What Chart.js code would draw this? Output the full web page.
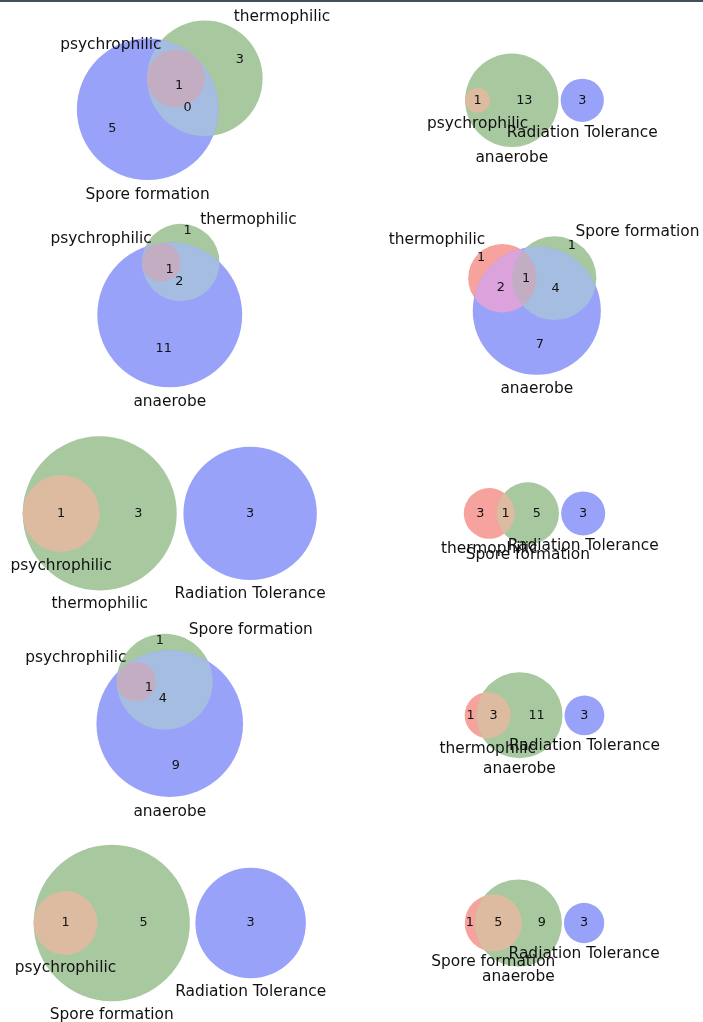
<!DOCTYPE html>
<html>
<head>
<meta charset="utf-8">
<script src="https://cdn.jsdelivr.net/npm/chart.js@4.4.1/dist/chart.umd.min.js"></script>
<style>
  html, body { margin: 0; padding: 0; background: #ffffff; }
  #page { position: relative; width: 703px; height: 1022px; overflow: hidden; background: #ffffff; }
  #page canvas { position: absolute; left: 0; top: 0; pointer-events: none; }
  #topbar { position: absolute; left: 0; top: 0; width: 703px; height: 2px; background: #3f505f; }
</style>
</head>
<body>
<div id="page"><div id="topbar"></div></div>
<script>
// ---- Data: three sets per diagram and their region counts ----
// Region order: [A only, B only, A&B, C only, A&C, B&C, A&B&C]
const setA = ['psychrophilic', 'psychrophilic', 'psychrophilic', 'thermophilic', 'psychrophilic',
              'thermophilic', 'psychrophilic', 'thermophilic', 'psychrophilic', 'Spore formation'];
const setB = ['thermophilic', 'anaerobe', 'thermophilic', 'Spore formation', 'thermophilic',
              'Spore formation', 'Spore formation', 'anaerobe', 'Spore formation', 'anaerobe'];
const setC = ['Spore formation', 'Radiation Tolerance', 'anaerobe', 'anaerobe', 'Radiation Tolerance',
              'Radiation Tolerance', 'anaerobe', 'Radiation Tolerance', 'Radiation Tolerance', 'Radiation Tolerance'];
const regionCounts = [
  [0, 3, 0, 5, 0, 0, 1],
  [0, 13, 1, 3, 0, 0, 0],
  [0, 1, 0, 11, 0, 2, 1],
  [1, 1, 0, 7, 2, 4, 1],
  [0, 3, 1, 3, 0, 0, 0],
  [3, 5, 1, 3, 0, 0, 0],
  [0, 1, 0, 9, 0, 4, 1],
  [1, 11, 3, 3, 0, 0, 0],
  [0, 5, 1, 3, 0, 0, 0],
  [1, 9, 5, 3, 0, 0, 0]
];

// ---- Styling / page layout ----
const REGION_COLORS = { 1: '#f5a39c', 2: '#a8c8a0', 3: '#dcbba0', 4: '#98a2f8', 5: '#dca2dc', 6: '#a5bde0', 7: '#c3adc3' };
const TEXT_COLOR = '#111111';
const FONT = '"DejaVu Sans", "Liberation Sans", sans-serif';
const NUM_FS = 12.8;
const SET_FS = 15.4;
const PAGE_W = 703, PAGE_H = 1022;
const COLS = [{ x: 4.5, w: 330.5 }, { x: 456, w: 157 }];
const ROW_CENTERS = [100.3, 305.5, 513.4, 715.3, 923];
const ROW_H = 190.2;
const BELOW_GAP = 0.034;

// Paint layers: each circle, then its overlaps clipped to the other circles
const LAYERS = [
  { circle: 0, clip: [], code: 1 },
  { circle: 1, clip: [], code: 2 },
  { circle: 2, clip: [], code: 4 },
  { circle: 1, clip: [0], code: 3 },
  { circle: 2, clip: [0], code: 5 },
  { circle: 2, clip: [1], code: 6 },
  { circle: 2, clip: [0, 1], code: 7 }
];

const TOL = 1e-10;
const TAU = Math.PI * 2;

function lensArea(r1, r2, d) {
  if (d >= r1 + r2) return 0;
  if (d <= Math.abs(r1 - r2)) return Math.PI * Math.min(r1, r2) ** 2;
  const a1 = Math.acos((d * d + r1 * r1 - r2 * r2) / (2 * d * r1));
  const a2 = Math.acos((d * d + r2 * r2 - r1 * r1) / (2 * d * r2));
  return r1 * r1 * (a1 - Math.sin(2 * a1) / 2) + r2 * r2 * (a2 - Math.sin(2 * a2) / 2);
}

function distanceForArea(r1, r2, area) {
  if (area < TOL) return r1 + r2;
  if (Math.abs(Math.PI * Math.min(r1, r2) ** 2 - area) < TOL) return Math.abs(r1 - r2);
  let lo = Math.abs(r1 - r2), hi = r1 + r2;
  for (let k = 0; k < 200; k++) {
    const mid = (lo + hi) / 2;
    if (lensArea(r1, r2, mid) > area) lo = mid; else hi = mid;
  }
  return (lo + hi) / 2;
}

// Area-proportional placement of the three circles (total area normalised to 1)
function layoutVenn(counts) {
  const total = counts.reduce((s, v) => s + v, 0);
  const f = counts.map(v => v / total);
  const areaA = f[0] + f[2] + f[4] + f[6];
  const areaB = f[1] + f[2] + f[5] + f[6];
  const areaC = f[3] + f[4] + f[5] + f[6];
  const inter = [f[2] + f[6], f[5] + f[6], f[4] + f[6]];
  const r = [areaA, areaB, areaC].map(a => Math.sqrt(a / Math.PI));
  const pairs = [[0, 1], [1, 2], [2, 0]];
  const d = pairs.map(([i, j], k) => distanceForArea(r[i], r[j], inter[k]));
  const nonzero = inter.filter(a => a > TOL).length;
  let c = [[0, 0], [0, 0], [0, 0]];
  if (nonzero === 3) {
    for (let i = 0; i < 3; i++) {
      const j = (i + 1) % 3, k = (i + 2) % 3;
      if (d[i] > d[j] + d[k]) {
        const [a, b] = d[j] < d[k] ? [j, k] : [k, j];
        d[i] = d[b] + d[a] * 0.8;
      }
    }
    const [dab, dbc, dac] = d;
    const cx = Math.abs(dab) > TOL ? (dac * dac - dbc * dbc + dab * dab) / (2 * dab) : 0;
    const cy = dac * dac < cx * cx ? 0 : -Math.sqrt(dac * dac - cx * cx);
    c = [[0, 0], [dab, 0], [cx, cy]];
  } else if (nonzero === 2) {
    for (let i = 0; i < 3; i++) {
      if (inter[i] < TOL) {
        const left = i, right = (i + 1) % 3, middle = (i + 2) % 3;
        c[middle][0] = d[middle];
        c[right][0] = d[middle] + d[right];
        if (c[left][0] + r[left] > c[right][0] - r[right]) {
          const mid = (c[left][0] + r[left] + c[right][0] - r[right]) / 2;
          c[left][0] = mid - r[left] - 1e-5;
          c[right][0] = mid + r[right] + 1e-5;
        }
        break;
      }
    }
  } else if (nonzero === 1) {
    for (let i = 0; i < 3; i++) {
      if (inter[i] > TOL) {
        const left = i, right = (i + 1) % 3, side = (i + 2) % 3;
        c[right][0] = d[left];
        c[side][0] = d[left] + r[right] + r[side] * 1.1;
        break;
      }
    }
  } else {
    c[1][0] = r[0] + r[1] * 1.1;
    c[2][0] = r[0] + r[1] * 1.1 + r[1] + r[2] * 1.1;
  }
  const w = r.map(v => v * v), sw = w[0] + w[1] + w[2];
  const mx = (w[0] * c[0][0] + w[1] * c[1][0] + w[2] * c[2][0]) / sw;
  const my = (w[0] * c[0][1] + w[1] * c[1][1] + w[2] * c[2][1]) / sw;
  return {
    generic: nonzero === 3,
    circles: c.map((p, i) => ({ x: p[0] - mx, y: p[1] - my, r: r[i] }))
  };
}

// Label anchor of every region: mean of the midpoints of the arcs bounding its
// largest connected piece (sweep-weighted when asked); a whole circle uses its centre.
function regionAnchors(circles, weighted) {
  const codeAt = (px, py) => {
    let code = 0;
    circles.forEach((ci, i) => { if ((px - ci.x) ** 2 + (py - ci.y) ** 2 < ci.r * ci.r) code |= 1 << i; });
    return code;
  };
  const arcs = [];
  circles.forEach((ci, i) => {
    const cuts = [];
    circles.forEach((cj, j) => {
      if (i === j) return;
      const dx = cj.x - ci.x, dy = cj.y - ci.y, dist = Math.hypot(dx, dy);
      if (dist < 1e-12) return;
      const base = Math.atan2(dy, dx);
      if (Math.abs(dist - (ci.r + cj.r)) < 1e-9) cuts.push(base);
      else if (Math.abs(dist - Math.abs(ci.r - cj.r)) < 1e-9) cuts.push(ci.r >= cj.r ? base : base + Math.PI);
      else if (dist < ci.r + cj.r && dist > Math.abs(ci.r - cj.r)) {
        const a = (dist * dist + ci.r * ci.r - cj.r * cj.r) / (2 * dist);
        const delta = Math.acos(Math.max(-1, Math.min(1, a / ci.r)));
        cuts.push(base + delta, base - delta);
      }
    });
    const ang = cuts.map(t => ((t % TAU) + TAU) % TAU).sort((p, q) => p - q)
      .filter((t, k, arr) => k === 0 || t - arr[k - 1] > 1e-9);
    if (ang.length > 1 && ang[0] + TAU - ang[ang.length - 1] < 1e-9) ang.pop();
    const spans = [];
    if (!ang.length) spans.push([0, TAU]);
    else ang.forEach((s, k) => spans.push([s, (k + 1 < ang.length ? ang[k + 1] : ang[0] + TAU) - s]));
    spans.forEach(([s, sweep]) => {
      if (sweep < 1e-9) return;
      const m = s + sweep / 2, ux = Math.cos(m), uy = Math.sin(m);
      const px = ci.x + ci.r * ux, py = ci.y + ci.r * uy, h = 1e-7;
      arcs.push({
        circle: i, px, py, ux, uy, sweep,
        inCode: codeAt(px - h * ux, py - h * uy) | (1 << i),
        outCode: codeAt(px + h * ux, py + h * uy) & ~(1 << i)
      });
    });
  });

  // Raster of region codes, split into connected pieces
  const minX = Math.min(...circles.map(c => c.x - c.r)), maxX = Math.max(...circles.map(c => c.x + c.r));
  const minY = Math.min(...circles.map(c => c.y - c.r)), maxY = Math.max(...circles.map(c => c.y + c.r));
  const N = 420, step = Math.max(maxX - minX, maxY - minY) / N;
  const nx = Math.ceil((maxX - minX) / step) + 1, ny = Math.ceil((maxY - minY) / step) + 1;
  const codes = new Int8Array(nx * ny), comp = new Int32Array(nx * ny).fill(-1);
  for (let j = 0; j < ny; j++) for (let i = 0; i < nx; i++)
    codes[j * nx + i] = codeAt(minX + (i + 0.5) * step, minY + (j + 0.5) * step);
  const compSize = [];
  const stack = new Int32Array(nx * ny);
  for (let s = 0; s < nx * ny; s++) {
    if (!codes[s] || comp[s] >= 0) continue;
    const id = compSize.length, code = codes[s];
    let top = 0, count = 0;
    stack[top++] = s; comp[s] = id;
    while (top) {
      const q = stack[--top]; count++;
      const qi = q % nx, qj = (q - qi) / nx;
      const nb = [];
      if (qi > 0) nb.push(q - 1);
      if (qi < nx - 1) nb.push(q + 1);
      if (qj > 0) nb.push(q - nx);
      if (qj < ny - 1) nb.push(q + nx);
      nb.forEach(n => { if (comp[n] < 0 && codes[n] === code) { comp[n] = id; stack[top++] = n; } });
    }
    compSize.push(count);
  }
  const cellOf = (px, py) => {
    const i = Math.floor((px - minX) / step), j = Math.floor((py - minY) / step);
    return (i < 0 || j < 0 || i >= nx || j >= ny) ? -1 : j * nx + i;
  };

  const anchors = {};
  for (let code = 1; code <= 7; code++) {
    const own = arcs.filter(a => a.inCode === code || a.outCode === code)
      .map(a => Object.assign({}, a, { dir: a.inCode === code ? -1 : 1, comp: -1 }));
    if (!own.length) continue;
    own.forEach(a => {
      for (let t = 0.75; t < 8; t += 0.5) {
        const cell = cellOf(a.px + a.dir * t * step * a.ux, a.py + a.dir * t * step * a.uy);
        if (cell >= 0 && codes[cell] === code) { a.comp = comp[cell]; break; }
      }
    });
    let best = -1, bestSize = 0;
    own.forEach(a => { if (a.comp >= 0 && compSize[a.comp] > bestSize) { best = a.comp; bestSize = compSize[a.comp]; } });
    if (best < 0) continue;
    const sel = own.filter(a => a.comp === best);
    if (sel.length === 1 && sel[0].sweep > TAU - 1e-6) {
      const c = circles[sel[0].circle];
      anchors[code] = { x: c.x, y: c.y };
    } else {
      const wt = a => (weighted ? a.sweep : 1);
      const sw = sel.reduce((s, a) => s + wt(a), 0);
      anchors[code] = {
        x: sel.reduce((s, a) => s + a.px * wt(a), 0) / sw,
        y: sel.reduce((s, a) => s + a.py * wt(a), 0) / sw
      };
    }
  }
  return anchors;
}

const pixelRadius = (chart, r) => Math.abs(chart.scales.x.getPixelForValue(r) - chart.scales.x.getPixelForValue(0));

// Clips an overlap layer to the circles of the listed datasets
const regionClip = {
  id: 'regionClip',
  beforeDatasetDraw(chart, args) {
    const ds = chart.data.datasets[args.index];
    if (!ds.clipTo || !ds.clipTo.length) return;
    const ctx = chart.ctx;
    ctx.save();
    ds.clipTo.forEach(k => {
      const el = chart.getDatasetMeta(k).data[0];
      ctx.beginPath();
      ctx.arc(el.x, el.y, el.options.radius, 0, TAU);
      ctx.clip();
    });
  },
  afterDatasetDraw(chart, args) {
    const ds = chart.data.datasets[args.index];
    if (ds.clipTo && ds.clipTo.length) chart.ctx.restore();
  }
};

function vennText(regionLabels, setLabels) {
  return {
    id: 'vennText',
    afterDatasetsDraw(chart) {
      const ctx = chart.ctx, xs = chart.scales.x, ys = chart.scales.y;
      ctx.save();
      ctx.fillStyle = TEXT_COLOR;
      ctx.textBaseline = 'alphabetic';
      ctx.font = NUM_FS + 'px ' + FONT;
      ctx.textAlign = 'center';
      regionLabels.forEach(l => {
        ctx.fillText(l.text, xs.getPixelForValue(l.x), ys.getPixelForValue(l.y) + 0.262 * NUM_FS);
      });
      ctx.font = SET_FS + 'px ' + FONT;
      setLabels.forEach(s => {
        ctx.textAlign = s.align;
        const py = ys.getPixelForValue(s.y) + (s.top ? 0.76 * SET_FS : 0);
        ctx.fillText(s.text, xs.getPixelForValue(s.x), py);
      });
      ctx.restore();
    }
  };
}

const page = document.getElementById('page');

regionCounts.forEach((counts, p) => {
  const geo = layoutVenn(counts);
  const circles = geo.circles;
  const anchors = regionAnchors(circles, geo.generic);
  const names = [setA[p], setB[p], setC[p]];

  const regionLabels = [];
  for (let code = 1; code <= 7; code++) {
    if (anchors[code]) regionLabels.push({ text: String(counts[code - 1]), x: anchors[code].x, y: anchors[code].y });
  }
  let setLabels;
  if (geo.generic) {
    const [a, b, c] = circles;
    setLabels = [
      { text: names[0], x: a.x - a.r / 2, y: a.y + a.r, align: 'right', top: false },
      { text: names[1], x: b.x + b.r / 2, y: b.y + b.r, align: 'left', top: false },
      { text: names[2], x: c.x, y: c.y - 1.1 * c.r, align: 'center', top: true }
    ];
  } else {
    setLabels = circles.map((c, i) => ({ text: names[i], x: c.x, y: c.y - c.r - BELOW_GAP, align: 'center', top: true }));
  }

  // Cell for this diagram and an equal-aspect view with a 0.1 margin
  const col = COLS[p % 2];
  const cell = { x: col.x, y: ROW_CENTERS[Math.floor(p / 2)] - ROW_H / 2, w: col.w, h: ROW_H };
  const minX = Math.min(...circles.map(c => c.x - c.r)) - 0.1, maxX = Math.max(...circles.map(c => c.x + c.r)) + 0.1;
  const minY = Math.min(...circles.map(c => c.y - c.r)) - 0.1, maxY = Math.max(...circles.map(c => c.y + c.r)) + 0.1;
  const s = Math.min(cell.w / (maxX - minX), cell.h / (maxY - minY));
  const cx = (minX + maxX) / 2, cy = (minY + maxY) / 2;

  const canvas = document.createElement('canvas');
  canvas.width = PAGE_W; canvas.height = PAGE_H;
  canvas.style.width = PAGE_W + 'px'; canvas.style.height = PAGE_H + 'px';
  page.appendChild(canvas);

  new Chart(canvas, {
    type: 'scatter',
    data: {
      datasets: LAYERS.map((L, k) => ({
        data: [{ x: circles[L.circle].x, y: circles[L.circle].y }],
        order: LAYERS.length - k,
        clipTo: L.clip,
        clip: false,
        pointStyle: 'circle',
        pointBackgroundColor: REGION_COLORS[L.code],
        pointBorderWidth: 0,
        pointRadius: ctx => pixelRadius(ctx.chart, circles[L.circle].r),
        pointHoverRadius: ctx => pixelRadius(ctx.chart, circles[L.circle].r)
      }))
    },
    options: {
      responsive: false,
      animation: false,
      devicePixelRatio: 1,
      events: [],
      layout: {
        padding: { left: cell.x, top: cell.y, right: PAGE_W - cell.x - cell.w, bottom: PAGE_H - cell.y - cell.h }
      },
      plugins: { legend: { display: false }, tooltip: { enabled: false } },
      scales: {
        x: { type: 'linear', display: false, min: cx - cell.w / (2 * s), max: cx + cell.w / (2 * s) },
        y: { type: 'linear', display: false, min: cy - cell.h / (2 * s), max: cy + cell.h / (2 * s) }
      }
    },
    plugins: [regionClip, vennText(regionLabels, setLabels)]
  });
});
</script>
</body>
</html>
